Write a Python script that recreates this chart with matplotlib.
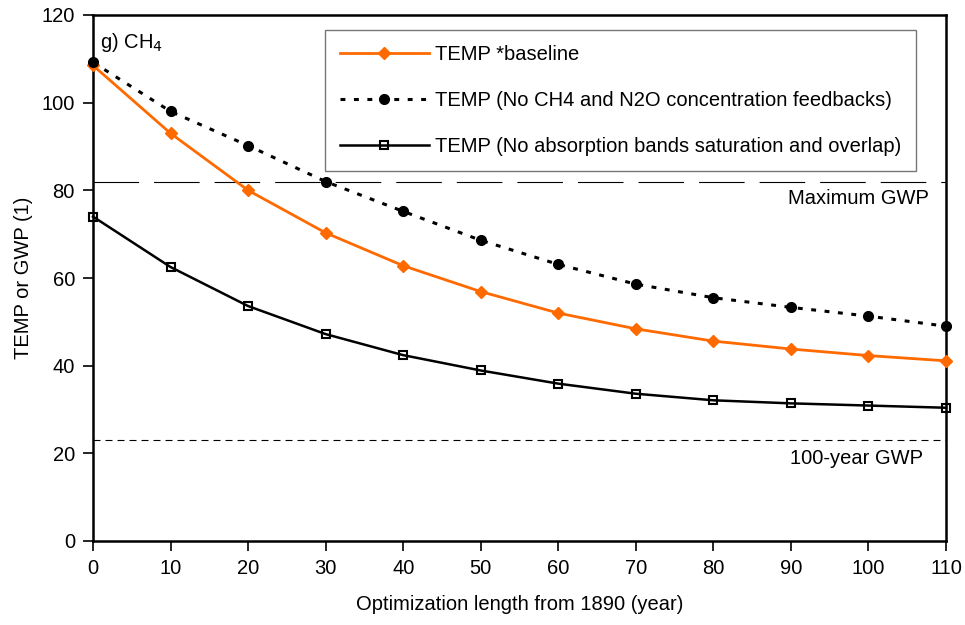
import matplotlib.pyplot as plt
import numpy as np

plt.rcParams['font.family'] = ['Liberation Sans', 'DejaVu Sans']

years = [0, 10, 20, 30, 40, 50, 60, 70, 80, 90, 100, 110]
baseline = [108.5, 93.0, 80.0, 70.3, 62.8, 56.9, 52.0, 48.4, 45.6, 43.8, 42.3, 41.1]
no_feedback = [109.2, 98.0, 90.2, 82.0, 75.2, 68.6, 63.1, 58.6, 55.5, 53.3, 51.3, 49.0]
no_saturation = [74.0, 62.5, 53.6, 47.2, 42.4, 38.9, 35.9, 33.6, 32.1, 31.4, 30.9, 30.4]
max_gwp = 82
gwp100 = 23

fs = 14.5

fig = plt.figure(figsize=(9.65, 6.25), dpi=100)
ax = fig.add_axes([0.0964, 0.1344, 0.8839, 0.8416])

# reference levels
ax.axhline(max_gwp, color='black', lw=0.8, dashes=(41, 13.5))
ax.axhline(gwp100, color='black', lw=0.8, dashes=(6.3, 4.5))

ax.plot(years, baseline, color='#ff6a00', lw=2, marker='D', ms=6.5,
        label='TEMP *baseline', clip_on=False, zorder=4)
ax.plot(years, no_feedback, color='black', lw=2.2, ls=(0, (1.6, 2.8)), marker='o', ms=7,
        label='TEMP (No CH4 and N2O concentration feedbacks)', clip_on=False, zorder=4)
ax.plot(years, no_saturation, color='black', lw=1.8, marker='s', ms=6, mfc='none', mew=1.5,
        label='TEMP (No absorption bands saturation and overlap)', clip_on=False, zorder=4)

ax.text(107.8, 80.3, 'Maximum GWP', ha='right', va='top', fontsize=fs)
ax.text(107.0, 21.0, '100-year GWP', ha='right', va='top', fontsize=fs)
ax.text(0.9, 113.8, 'g) CH$_4$', fontsize=fs, va='center')

ax.set_xlim(0, 110)
ax.set_ylim(0, 120)
ax.set_xticks(years)
ax.set_yticks(np.arange(0, 121, 20))
ax.tick_params(labelsize=fs, direction='out', length=7, width=1.2, pad=6)
for s in ax.spines.values():
    s.set_linewidth(1.8)

ax.set_xlabel('Optimization length from 1890 (year)', fontsize=fs, labelpad=12)
ax.set_ylabel('TEMP or GWP (1)', fontsize=fs, labelpad=6)

leg = ax.legend(loc='upper left', bbox_to_anchor=(0.272, 0.972), fontsize=fs,
                frameon=True, fancybox=False, edgecolor='#555555', handlelength=4.4,
                labelspacing=1.35, borderpad=0.75, handletextpad=0.3, borderaxespad=0)
leg.get_frame().set_linewidth(1)

fig.savefig('out.png', dpi=100)
